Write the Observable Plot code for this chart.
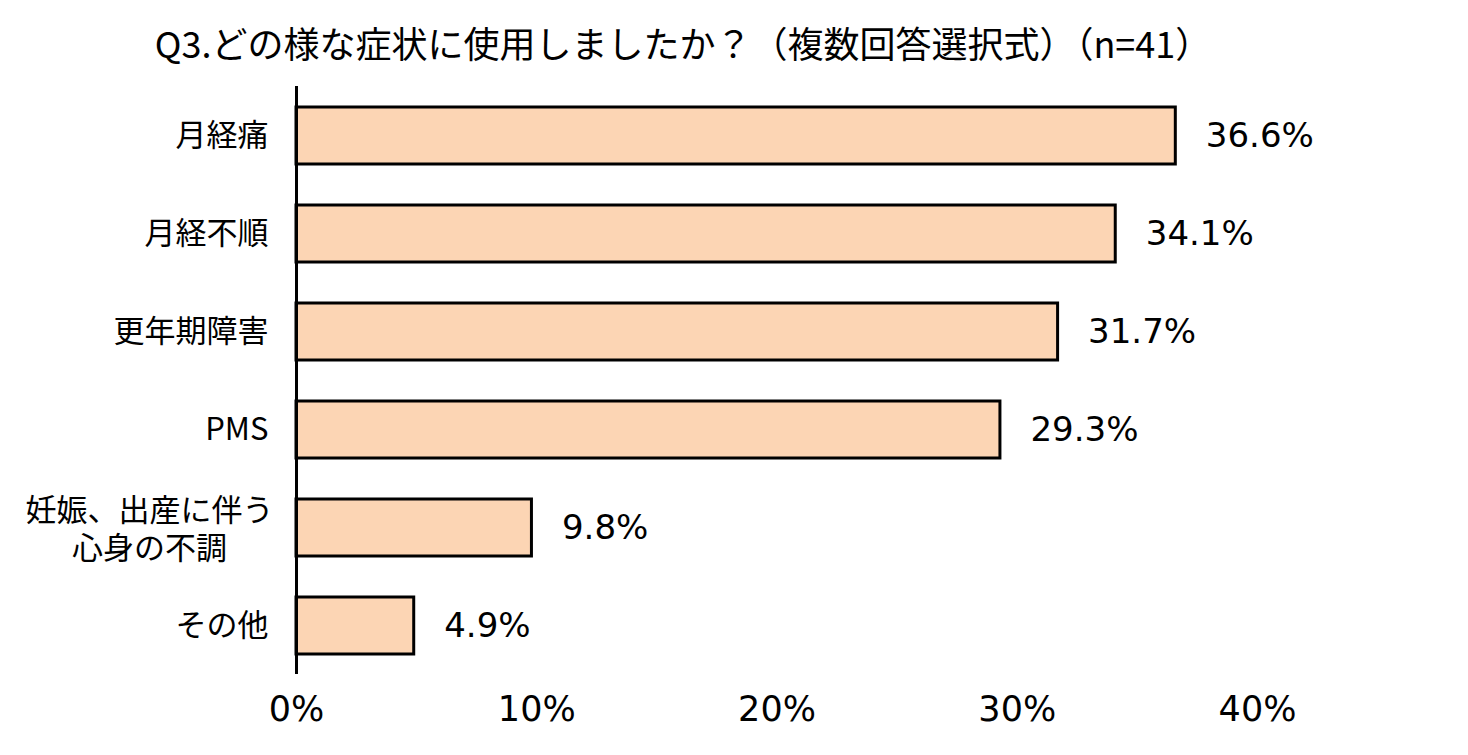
<!DOCTYPE html>
<html>
<head>
<meta charset="utf-8">
<script src="https://cdn.jsdelivr.net/npm/d3@7"></script>
<script src="https://cdn.jsdelivr.net/npm/@observablehq/plot@0.6"></script>
<style>
  html, body { margin: 0; padding: 0; background: #fff; }
  #title {
    width: 1366px; height: 86px; box-sizing: border-box; padding-top: 24px;
    text-align: center; font-family: "Noto Sans CJK JP", sans-serif;
    font-size: 36px; line-height: 1; color: #000; white-space: nowrap;
  }
  #chart svg { display: block; }
</style>
</head>
<body>
<div id="title">Q3.どの様な症状に使用しましたか？（複数回答選択式）（n=41）</div>
<div id="chart"></div>
<script>
const categories = ["月経痛", "月経不順", "更年期障害", "PMS", "妊娠、出産に伴う\n心身の不調", "その他"];
const values = [36.6, 34.1, 31.7, 29.3, 9.8, 4.9];
const xTicks = [0, 10, 20, 30, 40];

const data = categories.map((c, i) => ({cat: c, value: values[i], multi: c.includes("\n")}));

const jp = "'Noto Sans CJK JP', sans-serif";
const num = "'DejaVu Sans', sans-serif";

const chart = Plot.plot({
  width: 1468,
  height: 669,
  marginLeft: 296,
  marginRight: 211,
  marginTop: 0,
  marginBottom: 81,
  style: {background: "#fff", color: "#000"},
  x: {domain: [0, 40], ticks: xTicks, tickFormat: d => d + "%"},
  y: {domain: categories, paddingInner: 0.42, paddingOuter: 0.21},
  marks: [
    Plot.barX(data, {x: "value", y: "cat", fill: "#FCD5B4", stroke: "#000", strokeWidth: 3}),
    Plot.ruleX([0], {stroke: "#000", strokeWidth: 3}),
    Plot.text(data, {x: "value", y: "cat", text: d => d.value.toFixed(1) + "%", textAnchor: "start", dx: 30,
      fontSize: 34, fontFamily: num, fill: "#000"}),
    Plot.text(data.filter(d => !d.multi), {x: 0, y: "cat", text: "cat", textAnchor: "end", dx: -28,
      fontSize: 31, fontFamily: jp, fill: "#000"}),
    Plot.text(data.filter(d => d.multi), {x: 0, y: "cat", text: "cat", textAnchor: "middle", dx: -147,
      lineHeight: 1.23, fontSize: 31, fontFamily: jp, fill: "#000"}),
    Plot.axisX({ticks: xTicks, tickFormat: d => d + "%", tickSize: 0, tickPadding: 22, fontSize: 35,
      fontFamily: num, label: null, stroke: null}),
    Plot.axisY({ticks: [], label: null, tickSize: 0})
  ]
});
document.getElementById("chart").appendChild(chart);
</script>
</body>
</html>
